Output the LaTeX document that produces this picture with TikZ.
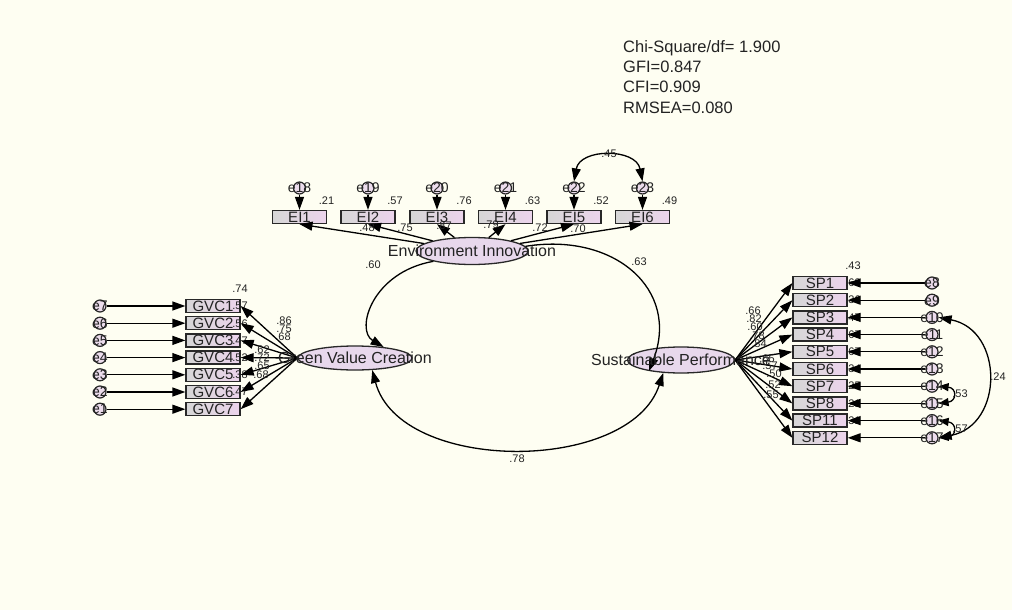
\documentclass[tikz,border=0pt]{standalone}
\usepackage{fontspec}
\setmainfont{Liberation Sans}
\usetikzlibrary{arrows.meta,shapes.geometric}
\definecolor{bg}{RGB}{254,254,242}
\definecolor{boxgray}{RGB}{214,214,214}
\definecolor{boxpink}{RGB}{236,212,236}
\definecolor{latfill}{RGB}{232,216,236}
\definecolor{errfill}{RGB}{236,220,236}
\definecolor{edge}{RGB}{40,40,40}
\definecolor{txt}{RGB}{35,35,35}
\begin{document}
\begin{tikzpicture}[x=1pt,y=-1pt,
  obs/.style={draw=edge,line width=1.3pt,left color=boxgray,right color=boxpink,minimum width=54pt,minimum height=13pt,inner sep=0pt,font=\fontsize{15}{15}\selectfont,text=txt},
  lat/.style={ellipse,draw=edge,line width=1.3pt,fill=latfill,inner sep=0pt},
  lattxt/.style={font=\fontsize{16}{16}\selectfont,text=txt,inner sep=0pt},
  err/.style={circle,draw=edge,line width=1.2pt,fill=errfill,minimum size=12pt,inner sep=0pt},
  errtxt/.style={font=\fontsize{14}{14}\selectfont,text=txt,inner sep=0pt},
  val/.style={font=\fontsize{11}{11}\selectfont,text=txt,inner sep=0pt},
  stat/.style={font=\fontsize{16.5}{16.5}\selectfont,text=txt,inner sep=0pt,anchor=base west},
  arr/.style={line width=1.3pt,draw=black,-{Triangle[length=13pt,width=9pt]}},
  dbl/.style={line width=1.3pt,draw=black,{Triangle[length=13pt,width=9pt]}-{Triangle[length=13pt,width=9pt]}},
  dbls/.style={line width=1.3pt,draw=black,{Triangle[length=10pt,width=8pt]}-{Triangle[length=10pt,width=8pt]}},
]
\fill[bg] (0,0) rectangle (1012,610);
\useasboundingbox (0,0) rectangle (1012,610);

% fit statistics
\node[stat] (s1) at (623,52.7) {Chi-Square/df= 1.900};
\node[stat] (s2) at (623,72.7) {GFI=0.847};
\node[stat] (s3) at (623,92.7) {CFI=0.909};
\node[stat] (s4) at (623,113) {RMSEA=0.080};

% latent variables
\node[lat,minimum width=112pt,minimum height=27pt] (EI) at (472,251) {};
\node[lat,minimum width=114pt,minimum height=24pt] (GVC) at (355,358) {};
\node[lat,minimum width=107pt,minimum height=26pt] (SP) at (681,360) {};

% EI indicators
\foreach \i/\x/\r in {1/299.5/.21,2/368/.57,3/437/.76,4/505.5/.63,5/574/.52,6/642.5/.49}{
  \node[obs] (EI\i) at (\x,217) {EI\i};
  \node[err] (ee\i) at (\x,188) {};
  \node[val] (rEI\i) at (\x+27,201) {\r};
}

% GVC indicators
\foreach \i/\y in {1/306,2/323.2,3/340.4,4/357.6,5/374.8,6/392,7/409.2}{
  \node[obs] (GVC\i) at (213,\y) {GVC\i};
  \node[err] (eg\i) at (100,\y) {};
}
\foreach \i/\y/\r in {1/306/.74,2/323.2/.57,3/340.4/.56,4/357.6/.47,5/374.8/.52,6/392/.38,7/409.2/.47}{
  \node[val] (rG\i) at (240,\y-17) {\r};
}

% SP indicators
\foreach \k/\t [evaluate=\k as \y using 283+17.2*(\k-1)] in {1/SP1,2/SP2,3/SP3,4/SP4,5/SP5,6/SP6,7/SP7,8/SP8,9/SP11,10/SP12}{
  \node[obs] (sp\k) at (820,\y) {\t};
  \node[err] (es\k) at (932,\y) {};
}
\foreach \k/\r [evaluate=\k as \y using 283+17.2*(\k-1)] in {1/.43,2/.68,3/.36,4/.47,5/.67,6/.67,7/.34,8/.25,9/.21,10/.31}{
  \node[val] (rS\k) at (853,\y-17.3) {\r};
}

% regression weights and error arrows
\foreach \i in {1,...,6}{
  \draw[arr] (EI) -- (EI\i.south);
  \draw[arr] (ee\i) -- (EI\i);
}
\foreach \i in {1,...,7}{
  \draw[arr] (GVC.west) -- (GVC\i.east);
  \draw[arr] (eg\i) -- (GVC\i);
}
\foreach \k in {1,...,10}{
  \draw[arr] (SP.east) -- (sp\k.west);
  \draw[arr] (es\k) -- (sp\k);
}

% structural / covariance arcs
\draw[arr] (EI.195) .. controls (372,272) and (355,330) .. (GVC.21);
\draw[arr] (EI.5) .. controls (615,232) and (680,290) .. (SP.199);
\draw[dbl] (GVC.325) .. controls (400,474) and (630,474) .. (SP.216);
\draw[dbl] (ee5.north) .. controls (580,148) and (636,148) .. (ee6.north);
\draw[dbl] (es3.east) .. controls (1004,330) and (1004,425) .. (es10.east);
\draw[dbls] (es7.east) .. controls (957,388) and (957,401) .. (es8.east);
\draw[dbls] (es9.east) .. controls (957,423) and (957,436) .. (es10.east);

% loading labels
\foreach \x/\y/\t in {367/228/.48,405/228/.75,444/226/.87,491/225/.79,540/228/.72,578/229/.70}{
  \node[val] at (\x,\y) {\t};
}
\foreach \x/\y/\t in {284/321/.86,284/329/.75,283/337/.68,262/350/.62,262/358/.72,262/366/.65,261/375/.68}{
  \node[val] at (\x,\y) {\t};
}
\foreach \x/\y/\t in {753/311/.66,754/319/.82,755/327/.60,757/336/.78,759/344/.84,767/359/.65,770/366/.57,774/374/.50,773/385/.52,771/395/.55}{
  \node[val] at (\x,\y) {\t};
}
\node[val] (l60) at (373,265) {.60};
\node[val] (l63) at (639,262) {.63};
\node[val] (l78) at (517,459) {.78};
\node[val] (l45) at (609,154) {.45};
\node[val] (l24) at (998,377) {.24};
\node[val] (l53) at (960,394) {.53};
\node[val] (l57) at (960,429) {.57};

% latent texts
\node[lattxt] at (EI) {Environment Innovation};
\node[lattxt] at (GVC) {Green Value Creation};
\node[lattxt] at (SP) {Sustainable Performance};

% error labels
\foreach \i [evaluate=\i as \n using int(17+\i)] in {1,...,6}{
  \node[errtxt] at (ee\i) {e\n};
}
\foreach \i [evaluate=\i as \n using int(8-\i)] in {1,...,7}{
  \node[errtxt] at (eg\i) {e\n};
}
\foreach \k [evaluate=\k as \n using int(7+\k)] in {1,...,10}{
  \node[errtxt] at (es\k) {e\n};
}
\end{tikzpicture}
\end{document}
